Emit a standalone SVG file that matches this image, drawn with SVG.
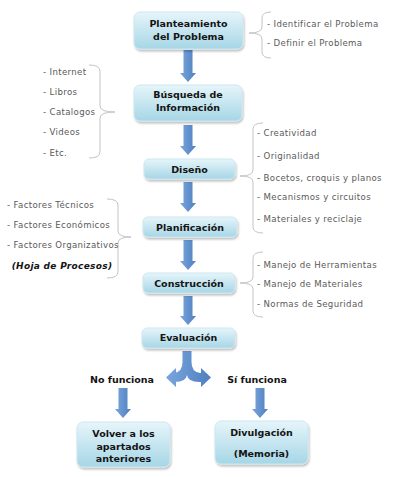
<svg xmlns="http://www.w3.org/2000/svg" width="400" height="477" viewBox="0 0 400 477">
<defs>
<linearGradient id="boxg" x1="0" y1="0" x2="0" y2="1">
<stop offset="0" stop-color="#e6f5fa"/>
<stop offset="1" stop-color="#a6d6e6"/>
</linearGradient>
<linearGradient id="arrg" x1="0" y1="0" x2="1" y2="0">
<stop offset="0" stop-color="#7aa6dc"/>
<stop offset="1" stop-color="#4f7fc0"/>
</linearGradient>
<filter id="sh" x="-10%" y="-20%" width="120%" height="150%">
<feGaussianBlur in="SourceAlpha" stdDeviation="1.2"/>
<feOffset dx="0.5" dy="1.5" result="b"/>
<feComponentTransfer><feFuncA type="linear" slope="0.25"/></feComponentTransfer>
<feMerge><feMergeNode/><feMergeNode in="SourceGraphic"/></feMerge>
</filter>
</defs>
<style>
.box{fill:url(#boxg);stroke:#cde7f0;stroke-width:1;filter:url(#sh)}
.bt{font-family:"DejaVu Sans",Verdana,sans-serif;font-weight:bold;font-size:9.5px;fill:#141414;text-anchor:middle}
.lt{font-family:"DejaVu Sans",Verdana,sans-serif;font-size:8.6px;fill:#5a5a5a;letter-spacing:0.35px}
.brace{fill:none;stroke:#c4c4c4;stroke-width:1}
.arr{fill:url(#arrg)}
.lab{font-family:"DejaVu Sans",Verdana,sans-serif;font-weight:bold;font-size:9.5px;fill:#141414;text-anchor:middle}
</style>
<rect width="400" height="477" fill="#ffffff"/>

<g id="connectors">
<path class="arr" d="M183.5,50 H192.5 V73 H196 L188,82 L180,73 H183.5 Z"/>
<path class="arr" d="M183.5,125 H192.5 V146 H196 L188,155 L180,146 H183.5 Z"/>
<path class="arr" d="M183.5,182 H192.5 V203 H196 L188,212 L180,203 H183.5 Z"/>
<path class="arr" d="M183.5,240 H192.5 V261 H196 L188,270 L180,261 H183.5 Z"/>
<path class="arr" d="M183.5,296 H192.5 V316 H196 L188,325 L180,316 H183.5 Z"/>
<path class="arr" d="M182.5,351 H191.5 V362 Q191.5,372 200,373 H201 V368 L211,377.5 L201,387 V382 H199 Q188,382 187,375 Q186,382 175,382 H176 V387 L166,377.5 L176,368 V373 H174 Q182.5,372 182.5,362 Z"/>
<path class="arr" d="M118.5,388 H127.5 V409 H131 L123,418 L115,409 H118.5 Z"/>
<path class="arr" d="M255.5,388 H264.5 V409 H268 L260,418 L252,409 H255.5 Z"/>
<path class="brace" d="M271,12 Q262,12 262,18 V27 Q262,33 249,33 Q262,33 262,39 V52 Q262,58 271,58"/>
<path class="brace" d="M89,65 Q100,65 100,71 V106 Q100,112 115,112 Q100,112 100,118 V152 Q100,158 89,158"/>
<path class="brace" d="M263,123 Q253,123 253,129 V170 Q253,176 240,176 Q253,176 253,182 V227 Q253,233 263,233"/>
<path class="brace" d="M107,199 Q118,199 118,205 V231 Q118,237 131,237 Q118,237 118,243 V272 Q118,278 107,278"/>
<path class="brace" d="M263,252 Q253,252 253,258 V277 Q253,283 240,283 Q253,283 253,289 V311 Q253,317 263,317"/>
</g>

<g id="n-planteamiento">
<rect class="box" x="134" y="12" width="109" height="37" rx="6"/>
<text class="bt" x="188.5" y="27">Planteamiento</text>
<text class="bt" x="188.5" y="39.5">del Problema</text>
</g>
<g id="l-planteamiento">
<text class="lt" x="267" y="27">- Identificar el Problema</text>
<text class="lt" x="267" y="46">- Definir el Problema</text>
</g>

<g id="n-busqueda">
<rect class="box" x="134" y="85" width="108" height="36" rx="6"/>
<text class="bt" x="188" y="98">Búsqueda de</text>
<text class="bt" x="188" y="111">Información</text>
</g>
<g id="l-busqueda">
<text class="lt" x="43" y="75">- Internet</text>
<text class="lt" x="43" y="95">- Libros</text>
<text class="lt" x="43" y="115">- Catalogos</text>
<text class="lt" x="43" y="135">- Videos</text>
<text class="lt" x="43" y="156">- Etc.</text>
</g>

<g id="n-diseno">
<rect class="box" x="144" y="159" width="91" height="20" rx="5"/>
<text class="bt" x="189.5" y="172.5">Diseño</text>
</g>
<g id="l-diseno">
<text class="lt" x="257" y="136">- Creatividad</text>
<text class="lt" x="257" y="159">- Originalidad</text>
<text class="lt" x="257" y="181">- Bocetos, croquis y planos</text>
<text class="lt" x="257" y="200">- Mecanismos y circuitos</text>
<text class="lt" x="257" y="222">- Materiales y reciclaje</text>
</g>

<g id="n-planificacion">
<rect class="box" x="143" y="217" width="94" height="20" rx="5"/>
<text class="bt" x="190" y="230.5">Planificación</text>
</g>
<g id="l-planificacion">
<text class="lt" x="7" y="208">- Factores Técnicos</text>
<text class="lt" x="7" y="228">- Factores Económicos</text>
<text class="lt" x="7" y="248">- Factores Organizativos</text>
<text x="62" y="269" style="font-family:'DejaVu Sans',Verdana,sans-serif;font-weight:bold;font-style:italic;font-size:9px;fill:#141414;text-anchor:middle;letter-spacing:0.3px">(Hoja de Procesos)</text>
</g>

<g id="n-construccion">
<rect class="box" x="143" y="273" width="92" height="20" rx="5"/>
<text class="bt" x="189" y="286.5">Construcción</text>
</g>
<g id="l-construccion">
<text class="lt" x="257" y="268">- Manejo de Herramientas</text>
<text class="lt" x="257" y="287">- Manejo de Materiales</text>
<text class="lt" x="257" y="307">- Normas de Seguridad</text>
</g>

<g id="n-evaluacion">
<rect class="box" x="142" y="328" width="93" height="20" rx="5"/>
<text class="bt" x="188.5" y="341">Evaluación</text>
</g>

<text class="lab" x="122" y="382.5">No funciona</text>
<text class="lab" x="257" y="382.5">Sí funciona</text>

<g id="n-volver">
<rect class="box" x="77" y="422" width="93" height="45" rx="6"/>
<text class="bt" x="123.5" y="437">Volver a los</text>
<text class="bt" x="123.5" y="449.5">apartados</text>
<text class="bt" x="123.5" y="462">anteriores</text>
</g>

<g id="n-divulgacion">
<rect class="box" x="215" y="421" width="93" height="43" rx="6"/>
<text class="bt" x="261.5" y="435.5">Divulgación</text>
<text class="bt" x="261.5" y="456.5">(Memoria)</text>
</g>
</svg>
